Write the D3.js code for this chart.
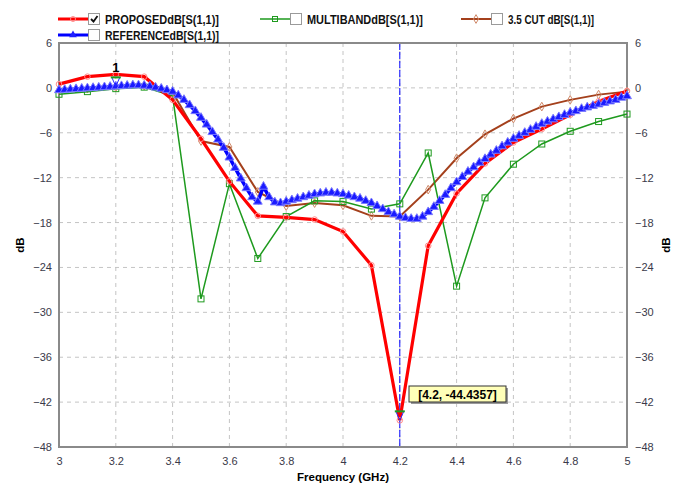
<!DOCTYPE html>
<html>
<head>
<meta charset="utf-8">
<script src="https://cdn.jsdelivr.net/npm/d3@7"></script>
<style>
  body { margin: 0; background: #fff; }
  text { font-family: "Liberation Sans", Arial, sans-serif; }
</style>
</head>
<body>
<div id="chart"></div>
<script>
// data
const freqs = d3.range(3, 5.0001, 0.1).map((d) => +d.toFixed(2))
const proposed = [0.5, 1.5, 1.8, 1.5, -1.6, -6.8, -12.5, -17.1, -17.3, -17.6, -19.2, -23.7, -44.4357, -21.1, -14.1, -10.1, -7.3, -5.5, -3.6, -1.8, -0.4]
const multiband = [-0.85, -0.5, -0.1, 0.1, -1.1, -28.2, -12.8, -22.8, -17.2, -15.1, -15.2, -16.2, -15.5, -8.7, -26.5, -14.7, -10.2, -7.5, -5.8, -4.5, -3.5]
const cut35 = [-0.3, -0.1, 0.1, 0.3, -0.6, -7.1, -7.9, -13.9, -15.8, -15.4, -15.7, -17.1, -17.2, -13.6, -9.4, -6.2, -4.1, -2.5, -1.6, -0.9, -0.5]

const refFreqs = d3.range(3, 5.0001, 0.02).map((d) => +d.toFixed(2))
const reference = [
  -0.3, -0.25, -0.2, -0.15, -0.1, -0.05, 0.0, 0.05, 0.1, 0.15,
  0.2, 0.25, 0.3, 0.35, 0.35, 0.3, 0.2, 0.05, -0.1, -0.3,
  -0.5, -1.0, -1.6, -2.3, -3.1, -4.0, -4.9, -5.9, -6.9, -8.0,
  -9.3, -10.7, -12.1, -13.4, -14.6, -15.2, -13.2, -14.6, -15.3, -15.4,
  -15.2, -15.0, -14.8, -14.6, -14.4, -14.2, -14.1, -14.0, -14.0, -14.1,
  -14.2, -14.4, -14.6, -14.8, -15.1, -15.4, -15.8, -16.2, -16.6, -16.9,
  -17.2, -17.4, -17.5, -17.5, -17.2, -16.6, -15.9, -15.1, -14.3, -13.4,
  -12.6, -11.9, -11.2, -10.6, -10.0, -9.5, -8.9, -8.4, -7.8, -7.3,
  -6.8, -6.4, -6.0, -5.6, -5.2, -4.8, -4.5, -4.2, -3.9, -3.6,
  -3.3, -3.1, -2.8, -2.6, -2.4, -2.2, -2.0, -1.8, -1.6, -1.3,
  -1.1,
]

const xTicks = [3, 3.2, 3.4, 3.6, 3.8, 4, 4.2, 4.4, 4.6, 4.8, 5]
const yTicks = [6, 0, -6, -12, -18, -24, -30, -36, -42, -48]

const seriesNames = ['PROPOSEDdB[S(1,1)]', 'REFERENCEdB[S(1,1)]', 'MULTIBANDdB[S(1,1)]', '3.5 CUT dB[S(1,1)]']

// Dimensions
const width = 681
const height = 485
const plot = { left: 59, right: 627, top: 43, bottom: 447 }

const xScale = d3.scaleLinear().domain([3, 5]).range([plot.left, plot.right])
const yScale = d3.scaleLinear().domain([-48, 6]).range([plot.bottom, plot.top])

const svg = d3.select('#chart').append('svg').attr('width', width).attr('height', height)

// grid
const grid = svg.append('g')
grid
  .selectAll('line.v')
  .data(xTicks.slice(1, -1))
  .join('line')
  .attr('x1', (d) => xScale(d))
  .attr('x2', (d) => xScale(d))
  .attr('y1', plot.top)
  .attr('y2', plot.bottom)
  .attr('stroke', '#c4c4c4')
  .attr('stroke-dasharray', '4,4')
grid
  .selectAll('line.h')
  .data(yTicks.slice(1, -1))
  .join('line')
  .attr('x1', plot.left)
  .attr('x2', plot.right)
  .attr('y1', (d) => yScale(d))
  .attr('y2', (d) => yScale(d))
  .attr('stroke', '#c4c4c4')
  .attr('stroke-dasharray', '4,4')

// marker line at 4.2
svg
  .append('line')
  .attr('x1', xScale(4.2))
  .attr('x2', xScale(4.2))
  .attr('y1', plot.top)
  .attr('y2', plot.bottom)
  .attr('stroke', '#0000ff')
  .attr('stroke-width', 1)
  .attr('stroke-dasharray', '7,2')

// axes (labels only, frame drawn separately)
const xAxis = d3.axisBottom(xScale).tickValues(xTicks).tickSize(0).tickPadding(10).tickFormat(d3.format('~g'))
const yAxisL = d3.axisLeft(yScale).tickValues(yTicks).tickSize(0).tickPadding(7)
const yAxisR = d3.axisRight(yScale).tickValues(yTicks).tickSize(0).tickPadding(8)

const styleAxis = (g) => {
  g.select('.domain').remove()
  g.selectAll('text').style('font-size', '11px').style('font-family', '"Liberation Sans", Arial, sans-serif').attr('fill', '#3a3a4a')
}
svg.append('g').attr('transform', `translate(0,${plot.bottom})`).call(xAxis).call(styleAxis)
svg.append('g').attr('transform', `translate(${plot.left},0)`).call(yAxisL).call(styleAxis)
svg.append('g').attr('transform', `translate(${plot.right},0)`).call(yAxisR).call(styleAxis)

svg
  .append('text')
  .attr('x', (plot.left + plot.right) / 2)
  .attr('y', 481)
  .attr('text-anchor', 'middle')
  .style('font-size', '11.5px')
  .style('font-weight', 'bold')
  .text('Frequency (GHz)')
svg
  .append('text')
  .attr('transform', `translate(24,${(plot.top + plot.bottom) / 2}) rotate(-90)`)
  .attr('text-anchor', 'middle')
  .style('font-size', '11.5px')
  .style('font-weight', 'bold')
  .text('dB')
svg
  .append('text')
  .attr('transform', `translate(670,${(plot.top + plot.bottom) / 2}) rotate(-90)`)
  .attr('text-anchor', 'middle')
  .style('font-size', '11.5px')
  .style('font-weight', 'bold')
  .text('dB')

// frame
svg
  .append('rect')
  .attr('x', plot.left)
  .attr('y', plot.top)
  .attr('width', plot.right - plot.left)
  .attr('height', plot.bottom - plot.top)
  .attr('fill', 'none')
  .attr('stroke', '#8a8a8a')
  .attr('stroke-width', 2)

// lines
const lineGen = (xs) =>
  d3
    .line()
    .x((d, i) => xScale(xs[i]))
    .y((d) => yScale(d))

const ctr = svg.append('g')

// brown 3.5 CUT
ctr.append('path').datum(cut35).attr('d', lineGen(freqs)).attr('fill', 'none').attr('stroke', '#a4401c').attr('stroke-width', 2)
ctr
  .selectAll('path.dia')
  .data(cut35)
  .join('path')
  .attr('transform', (d, i) => `translate(${xScale(freqs[i])},${yScale(d)})`)
  .attr('d', d3.symbol(d3.symbolDiamond, 22)())
  .attr('fill', 'none')
  .attr('stroke', '#d08a6a')
  .attr('stroke-width', 1)

// green multiband
ctr.append('path').datum(multiband).attr('d', lineGen(freqs)).attr('fill', 'none').attr('stroke', '#1e9a1e').attr('stroke-width', 1.5)
ctr
  .selectAll('rect.sq')
  .data(multiband)
  .join('rect')
  .attr('x', (d, i) => xScale(freqs[i]) - 3)
  .attr('y', (d) => yScale(d) - 3)
  .attr('width', 6)
  .attr('height', 6)
  .attr('fill', 'none')
  .attr('stroke', '#1e9a1e')
  .attr('stroke-width', 1)

// red proposed
ctr.append('path').datum(proposed).attr('d', lineGen(freqs)).attr('fill', 'none').attr('stroke', '#ff0000').attr('stroke-width', 3.2)
ctr
  .selectAll('circle.pt')
  .data(proposed)
  .join('circle')
  .attr('cx', (d, i) => xScale(freqs[i]))
  .attr('cy', (d) => yScale(d))
  .attr('r', 2.8)
  .attr('fill', 'none')
  .attr('stroke', '#ff8a8a')
  .attr('stroke-width', 1)

// blue reference
ctr.append('path').datum(reference).attr('d', lineGen(refFreqs)).attr('fill', 'none').attr('stroke', '#0000ff').attr('stroke-width', 3.5)
ctr
  .selectAll('path.tri')
  .data(reference)
  .join('path')
  .attr('transform', (d, i) => `translate(${xScale(refFreqs[i])},${yScale(d)})`)
  .attr('d', d3.symbol(d3.symbolTriangle, 34)())
  .attr('fill', '#1a1aff')
  .attr('stroke', '#7a7aff')
  .attr('stroke-width', 1)

// data markers (green bar + inverted triangle)
const drawMarker = (x, y) => {
  svg
    .append('path')
    .attr('d', `M${x - 4},${y - 9}L${x + 4},${y - 9}L${x},${y}Z`)
    .attr('fill', 'none')
    .attr('stroke', '#2a2aff')
    .attr('stroke-width', 1)
  svg
    .append('line')
    .attr('x1', x - 5)
    .attr('x2', x + 5)
    .attr('y1', y - 9)
    .attr('y2', y - 9)
    .attr('stroke', '#1e9a1e')
    .attr('stroke-width', 2)
}
const m1x = xScale(3.2)
const m1y = yScale(reference[refFreqs.indexOf(3.2)])
drawMarker(m1x, m1y)
svg
  .append('text')
  .attr('x', m1x)
  .attr('y', m1y - 14)
  .attr('text-anchor', 'middle')
  .style('font-size', '13px')
  .style('font-weight', 'bold')
  .text('1')

const m2x = xScale(4.2)
const m2y = yScale(proposed[freqs.indexOf(4.2)])
drawMarker(m2x, m2y)

// annotation box
const boxX = 409
const boxY = 386
svg.append('rect').attr('x', boxX + 2).attr('y', boxY + 2).attr('width', 97).attr('height', 16).attr('fill', '#9a9a9a')
svg.append('rect').attr('x', boxX).attr('y', boxY).attr('width', 97).attr('height', 16).attr('fill', '#ffffb8').attr('stroke', '#333').attr('stroke-width', 1)
svg
  .append('text')
  .attr('x', boxX + 48.5)
  .attr('y', boxY + 12.5)
  .attr('text-anchor', 'middle')
  .style('font-size', '12px')
  .style('font-weight', 'bold')
  .text(`[4.2, ${proposed[freqs.indexOf(4.2)]}]`)

// legend
const legendItems = [
  { name: seriesNames[0], color: '#ff0000', x: 58, y: 19, w: 3, sym: 'circle', checked: true, tw: 114 },
  { name: seriesNames[1], color: '#0000ff', x: 58, y: 35, w: 3, sym: 'tri', checked: false, tw: 114 },
  { name: seriesNames[2], color: '#1e9a1e', x: 260, y: 19, w: 1.5, sym: 'sq', checked: false, tw: 116 },
  { name: seriesNames[3], color: '#a4401c', x: 461, y: 19, w: 2, sym: 'dia', checked: false, tw: 86 },
]
const lg = svg.append('g')
legendItems.forEach((it) => {
  const g = lg.append('g')
  g.append('line').attr('x1', it.x).attr('x2', it.x + 30).attr('y1', it.y).attr('y2', it.y).attr('stroke', it.color).attr('stroke-width', it.w)
  const mx = it.x + 15
  if (it.sym === 'circle') g.append('circle').attr('cx', mx).attr('cy', it.y).attr('r', 2.5).attr('fill', 'none').attr('stroke', '#ff8a8a')
  if (it.sym === 'tri') g.append('path').attr('transform', `translate(${mx},${it.y})`).attr('d', d3.symbol(d3.symbolTriangle, 26)()).attr('fill', '#2020ff')
  if (it.sym === 'sq') g.append('rect').attr('x', mx - 2.5).attr('y', it.y - 2.5).attr('width', 5).attr('height', 5).attr('fill', 'none').attr('stroke', it.color)
  if (it.sym === 'dia') g.append('path').attr('transform', `translate(${mx},${it.y})`).attr('d', d3.symbol(d3.symbolDiamond, 22)()).attr('fill', 'none').attr('stroke', '#d08a6a')
  const bx = it.x + 30
  g.append('rect').attr('x', bx + 0.5).attr('y', it.y - 5.5).attr('width', 11).attr('height', 11).attr('fill', '#fff').attr('stroke', '#9a9a9a')
  if (it.checked) {
    g.append('path')
      .attr('d', `M${bx + 3},${it.y}L${bx + 5.5},${it.y + 2.5}L${bx + 9.5},${it.y - 3}`)
      .attr('fill', 'none')
      .attr('stroke', '#111')
      .attr('stroke-width', 1.8)
  }
  g.append('text')
    .attr('x', bx + 17)
    .attr('y', it.y + 5)
    .attr('textLength', it.tw)
    .attr('lengthAdjust', 'spacingAndGlyphs')
    .style('font-size', '12.5px')
    .style('font-weight', 'bold')
    .attr('fill', '#111')
    .text(it.name)
})
</script>
</body>
</html>
